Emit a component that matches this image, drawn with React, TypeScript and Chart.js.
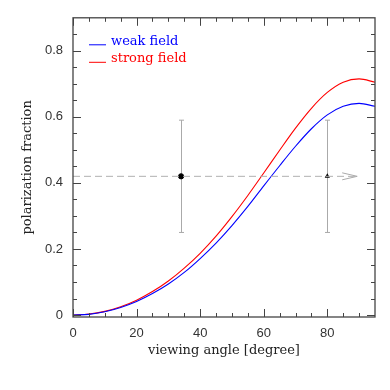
import React, { useEffect, useRef } from "react";
import { Chart, registerables } from "chart.js";

Chart.register(...registerables);

// ---- data ----
const angles = [0, 5, 10, 15, 20, 25, 30, 35, 40, 45, 50, 55, 60, 65, 70, 75, 80, 85, 90, 95];
const weakField = [0, 0.002, 0.010, 0.023, 0.041, 0.065, 0.094, 0.129, 0.171, 0.218, 0.271, 0.329, 0.391, 0.452, 0.511, 0.564, 0.606, 0.632, 0.641, 0.632];
const strongField = [0, 0.003, 0.011, 0.025, 0.045, 0.071, 0.103, 0.142, 0.187, 0.239, 0.298, 0.362, 0.430, 0.499, 0.566, 0.626, 0.674, 0.705, 0.715, 0.705];

const obsAngles = [34, 80];
const obsValues = [0.42, 0.42];
const obsLow = [0.25, 0.25];
const obsHigh = [0.59, 0.59];
const obsStyles = ["circle", "triangle"];
const obsRadii = [2.6, 3];
const obsBorders = [1, 0];

const refLevel = 0.42;
const refStart = 0;
const refEnd = 89.4;

const xTicks = [0, 20, 40, 60, 80];
const xMinorTicks = [5, 10, 15, 25, 30, 35, 45, 50, 55, 65, 70, 75, 85, 90];
const yTicks = [0, 0.2, 0.4, 0.6, 0.8];
const yMinorTicks = [0.05, 0.1, 0.15, 0.25, 0.3, 0.35, 0.45, 0.5, 0.55, 0.65, 0.7, 0.75, 0.85];

const SERIF = "'DejaVu Serif', serif";
const SANS = "'Liberation Sans', Arial, sans-serif";

const decorPlugin = {
  id: "decor",
  beforeDatasetsDraw(chart: any) {
    const { ctx, scales } = chart;
    const xs = scales.x;
    const ys = scales.y;
    ctx.save();
    ctx.strokeStyle = "#aaaaaa";
    ctx.lineWidth = 1;
    for (let i = 0; i < obsAngles.length; i++) {
      const px = Math.round(xs.getPixelForValue(obsAngles[i])) + 0.5;
      const pLo = ys.getPixelForValue(obsLow[i]);
      const pHi = ys.getPixelForValue(obsHigh[i]);
      ctx.beginPath();
      ctx.moveTo(px, pLo);
      ctx.lineTo(px, pHi);
      ctx.moveTo(px - 2.5, pLo);
      ctx.lineTo(px + 2.5, pLo);
      ctx.moveTo(px - 2.5, pHi);
      ctx.lineTo(px + 2.5, pHi);
      ctx.stroke();
    }
    // arrow head on reference line
    const tx = xs.getPixelForValue(refEnd);
    const ty = ys.getPixelForValue(refLevel);
    ctx.strokeStyle = "#aaaaaa";
    ctx.beginPath();
    ctx.moveTo(tx - 15, ty - 3.5);
    ctx.lineTo(tx, ty);
    ctx.lineTo(tx - 15, ty + 3.5);
    ctx.stroke();
    ctx.restore();
  },
  afterDatasetsDraw(chart: any) {
    const { ctx, chartArea, scales } = chart;
    const xs = scales.x;
    const ys = scales.y;
    const { left, right, top, bottom } = chartArea;
    ctx.save();
    ctx.strokeStyle = "#444444";
    ctx.lineWidth = 1.3;
    ctx.strokeRect(left, top, right - left, bottom - top);
    ctx.lineWidth = 1;
    ctx.beginPath();
    const major = 8;
    const minor = 4;
    const xt = (v: number, len: number) => {
      const p = Math.round(xs.getPixelForValue(v)) + 0.5;
      ctx.moveTo(p, bottom);
      ctx.lineTo(p, bottom - len);
      ctx.moveTo(p, top);
      ctx.lineTo(p, top + len);
    };
    const yt = (v: number, len: number) => {
      const p = Math.round(ys.getPixelForValue(v)) + 0.5;
      ctx.moveTo(left, p);
      ctx.lineTo(left + len, p);
      ctx.moveTo(right, p);
      ctx.lineTo(right - len, p);
    };
    xTicks.forEach((v) => xt(v, major));
    xMinorTicks.forEach((v) => xt(v, minor));
    yTicks.forEach((v) => yt(v, major));
    yMinorTicks.forEach((v) => yt(v, minor));
    ctx.stroke();

    // legend
    const items = [chart.data.datasets[1], chart.data.datasets[2]];
    ctx.font = "13px " + SERIF;
    ctx.textBaseline = "alphabetic";
    ctx.textAlign = "left";
    items.forEach((ds: any, i: number) => {
      const y = top + 27 + i * 17.5;
      ctx.strokeStyle = ds.borderColor;
      ctx.lineWidth = 1;
      ctx.beginPath();
      ctx.moveTo(left + 16, y);
      ctx.lineTo(left + 33, y);
      ctx.stroke();
      ctx.fillStyle = ds.borderColor;
      ctx.fillText(ds.label, left + 38, y);
    });
    ctx.restore();
  },
};

export default function App() {
  const ref = useRef<HTMLCanvasElement | null>(null);
  useEffect(() => {
    if (!ref.current) return;
    const chart = new Chart(ref.current, {
      type: "line",
      data: {
        datasets: [
          {
            label: "reference",
            data: [
              { x: refStart, y: refLevel },
              { x: refEnd, y: refLevel },
            ],
            borderColor: "#b0b0b0",
            borderWidth: 1,
            borderDash: [7, 4],
            pointRadius: 0,
          },
          {
            label: "weak field",
            data: angles.map((a, i) => ({ x: a, y: weakField[i] })),
            borderColor: "#0000ff",
            borderWidth: 1.1,
            pointRadius: 0,
            cubicInterpolationMode: "monotone",
          },
          {
            label: "strong field",
            data: angles.map((a, i) => ({ x: a, y: strongField[i] })),
            borderColor: "#ff0000",
            borderWidth: 1.1,
            pointRadius: 0,
            cubicInterpolationMode: "monotone",
          },
          {
            type: "scatter",
            label: "observations",
            data: obsAngles.map((a, i) => ({ x: a, y: obsValues[i] })),
            showLine: false,
            pointStyle: obsStyles,
            pointRadius: obsRadii,
            pointBackgroundColor: "#000000",
            pointBorderColor: "#000000",
            pointBorderWidth: obsBorders,
            backgroundColor: "#000000",
            borderColor: "#000000",
          } as any,
        ],
      },
      options: {
        animation: false,
        responsive: false,
        clip: false as any,
        layout: { padding: { left: 0, right: 15, top: 15, bottom: 0 } },
        plugins: { legend: { display: false }, tooltip: { enabled: false } },
        scales: {
          x: {
            type: "linear",
            min: 0,
            max: 95,
            afterFit(s: any) {
              s.height = 73;
            },
            afterBuildTicks(s: any) {
              s.ticks = xTicks.map((v) => ({ value: v }));
            },
            grid: { display: false, drawTicks: false },
            border: { display: false },
            ticks: {
              padding: 9,
              maxRotation: 0,
              color: "#333333",
              font: { family: SANS, size: 13 },
              callback: (v: any) => String(v),
            },
            title: {
              display: true,
              text: "viewing angle [degree]",
              color: "#222222",
              font: { family: SERIF, size: 13 },
              padding: { top: 0, bottom: 32 },
            },
          },
          y: {
            type: "linear",
            min: -0.006,
            max: 0.9,
            afterFit(s: any) {
              s.width = 73;
            },
            afterBuildTicks(s: any) {
              s.ticks = yTicks.map((v) => ({ value: v }));
            },
            grid: { display: false, drawTicks: false },
            border: { display: false },
            ticks: {
              padding: 10,
              color: "#333333",
              font: { family: SANS, size: 13 },
              callback: (v: any) => (v === 0 ? "0" : Number(v).toFixed(1)),
            },
            title: {
              display: true,
              text: "polarization fraction",
              color: "#222222",
              font: { family: SERIF, size: 13 },
              padding: { top: 20, bottom: 0 },
            },
          },
        },
      },
      plugins: [decorPlugin],
    } as any);
    return () => chart.destroy();
  }, []);

  return (
    <div style={{ position: "absolute", left: 0, top: 0, width: 390, height: 390, background: "#fff" }}>
      <canvas ref={ref} width={390} height={390} style={{ display: "block", width: 390, height: 390 }} />
    </div>
  );
}
